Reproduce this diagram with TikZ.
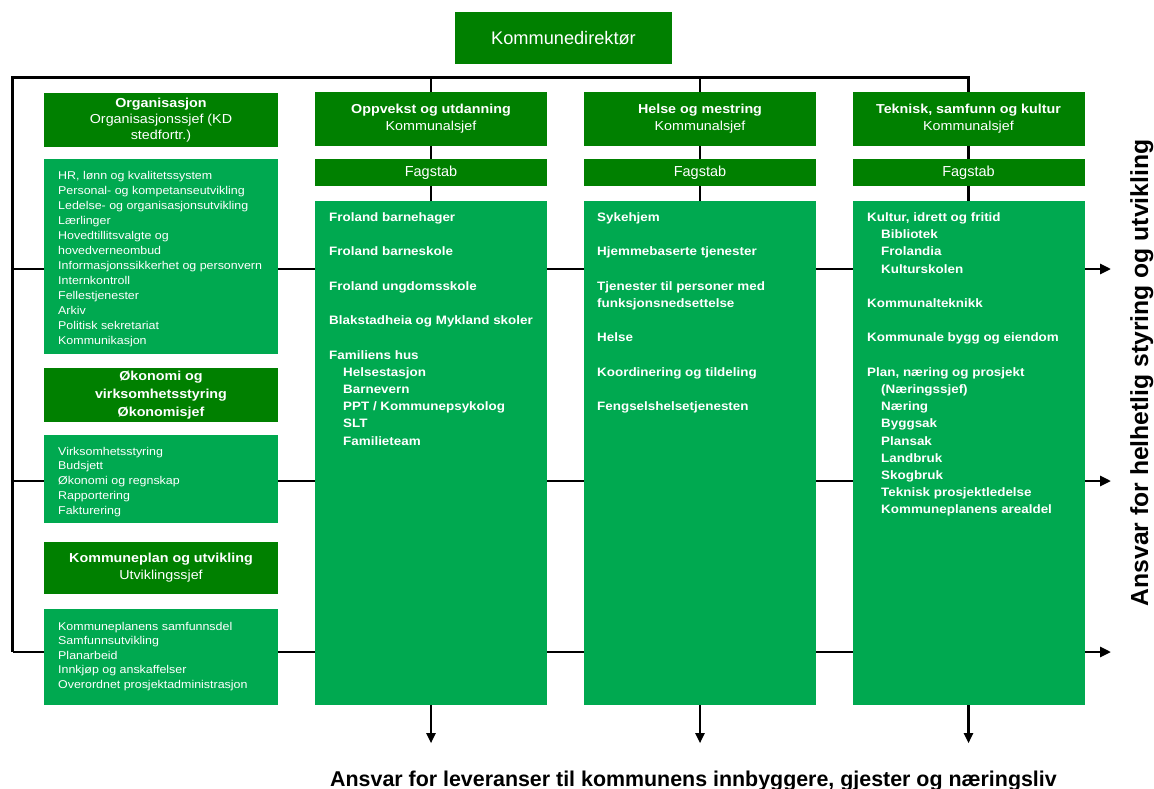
\documentclass[tikz,border=0pt]{standalone}
\usepackage{fontspec}
\setmainfont{Liberation Sans}
\newfontfamily\wf{Liberation Sans}[FakeStretch=1.1]
\usetikzlibrary{arrows.meta,backgrounds,calc}
\definecolor{dg}{HTML}{008000}
\definecolor{lg}{HTML}{00A950}
\begin{document}
\begin{tikzpicture}[x=1pt,y=-1pt,
  conn/.style={line width=2.7pt, black},
  arr/.style={conn, -{Triangle[length=11pt,width=10pt]}},
  darr/.style={line width=2.2pt, black, -{Triangle[length=10pt,width=9pt]}},
  hbox/.style={fill=dg, draw=none, text=white, inner sep=0pt, align=center, font=\wf\fontsize{13}{17}\selectfont},
  ibox/.style={fill=lg, draw=none, inner sep=0pt},
  fbox/.style={fill=dg, draw=none, text=white, inner sep=0pt, font=\fontsize{14.5}{17}\selectfont},
  ltxt/.style={anchor=base west, inner sep=0pt, text=white, font=\wf\fontsize{11.3}{15}\selectfont},
  mtxt/.style={anchor=base west, inner sep=0pt, text=white, font=\wf\bfseries\fontsize{12.2}{17}\selectfont},
]
\useasboundingbox (0,0) rectangle (1154,789);

% top box
\node[fill=dg, text=white, minimum width=217pt, minimum height=52pt, inner sep=0pt,
      font=\fontsize{18.2}{20}\selectfont] (dir) at (563.5,38) {Kommunedirektør};

% left column
\node[hbox, minimum width=234pt, minimum height=54pt, font=\wf\fontsize{13}{16}\selectfont] (orgH) at (161,120)
  {\textbf{Organisasjon}\\Organisasjonssjef (KD\\stedfortr.)};
\node[ibox, minimum width=234pt, minimum height=195pt] (orgI) at (161,256.5) {};
\node[hbox, minimum width=234pt, minimum height=54pt, font=\wf\fontsize{13}{18}\selectfont] (okoH) at (161,395)
  {\textbf{Økonomi og}\\\textbf{virksomhetsstyring}\\\textbf{Økonomisjef}};
\node[ibox, minimum width=234pt, minimum height=88pt] (okoI) at (161,479) {};
\node[hbox, minimum width=234pt, minimum height=52pt] (kpH) at (161,568)
  {\textbf{Kommuneplan og utvikling}\\Utviklingssjef};
\node[ibox, minimum width=234pt, minimum height=96pt] (kpI) at (161,657) {};

% main columns
\foreach \n/\cx/\t in {2/431/Oppvekst og utdanning, 3/700/Helse og mestring, 4/968.5/{Teknisk, samfunn og kultur}}{
  \node[hbox, minimum width=232pt, minimum height=54pt] (h\n) at (\cx,119) {\textbf{\t}\\Kommunalsjef};
  \node[fbox, minimum width=232pt, minimum height=27pt] (f\n) at (\cx,172.5) {Fagstab};
  \node[ibox, minimum width=232pt, minimum height=504pt] (m\n) at (\cx,453) {};
}

% left texts
\foreach \t [count=\k from 0] in {{HR, lønn og kvalitetssystem},Personal- og kompetanseutvikling,
  Ledelse- og organisasjonsutvikling,Lærlinger,Hovedtillitsvalgte og,hovedverneombud,
  Informasjonssikkerhet og personvern,Internkontroll,Fellestjenester,Arkiv,Politisk sekretariat,Kommunikasjon}
  \node[ltxt] (o\k) at (58,{179+15*\k}) {\t};
\foreach \t [count=\k from 0] in {Virksomhetsstyring,Budsjett,Økonomi og regnskap,Rapportering,Fakturering}
  \node[ltxt] (e\k) at (58,{455+14.8*\k}) {\t};
\foreach \t [count=\k from 0] in {Kommuneplanens samfunnsdel,Samfunnsutvikling,Planarbeid,
  Innkjøp og anskaffelser,Overordnet prosjektadministrasjon}
  \node[ltxt] (p\k) at (58,{630+14.6*\k}) {\t};

% column texts
\foreach \k/\x/\t in {0/329/Froland barnehager,2/329/Froland barneskole,4/329/Froland ungdomsskole,
  6/329/Blakstadheia og Mykland skoler,8/329/Familiens hus,9/343/Helsestasjon,10/343/Barnevern,
  11/343/{PPT / Kommunepsykolog},12/343/SLT,13/343/Familieteam}
  \node[mtxt] (a\k) at (\x,{221.5+17.2*\k}) {\t};
\foreach \k/\x/\t in {0/597/Sykehjem,2/597/Hjemmebaserte tjenester,4/597/Tjenester til personer med,
  5/597/funksjonsnedsettelse,7/597/Helse,9/597/Koordinering og tildeling,11/597/Fengselshelsetjenesten}
  \node[mtxt] (b\k) at (\x,{221.5+17.2*\k}) {\t};
\foreach \k/\x/\t in {0/867/{Kultur, idrett og fritid},1/881/Bibliotek,2/881/Frolandia,3/881/Kulturskolen,
  5/867/Kommunalteknikk,7/867/Kommunale bygg og eiendom,9/867/{Plan, næring og prosjekt},
  10/881/(Næringssjef),11/881/Næring,12/881/Byggsak,13/881/Plansak,14/881/Landbruk,15/881/Skogbruk,
  16/881/Teknisk prosjektledelse,17/881/Kommuneplanens arealdel}
  \node[mtxt] (c\k) at (\x,{221.5+17.2*\k}) {\t};

% side texts
\node[anchor=base, inner sep=0pt, rotate=90, font=\bfseries\fontsize{24.7}{28}\selectfont] (rt)
  at (1148,373) {Ansvar for helhetlig styring og utvikling};
\node[anchor=base, inner sep=0pt, font=\bfseries\fontsize{21.4}{24}\selectfont] (bt)
  at (693.5,786) {Ansvar for leveranser til kommunens innbyggere, gjester og næringsliv};

% connectors
\coordinate (TL) at (12.5,77.5);
\coordinate (BL) at (12.5,652);
\coordinate (L1) at (12.5,269);
\coordinate (L2) at (12.5,481);
\coordinate (R1) at (1111,269);
\coordinate (R2) at (1111,481);
\coordinate (R3) at (1111,652);
\begin{scope}[on background layer]
  \draw[conn] (BL) -- (TL) -- (h4.north |- TL) -- (h4.north);
  \draw[conn] (h2.north |- TL) -- (h2.north);
  \draw[conn] (h3.north |- TL) -- (h3.north);
  \draw[arr] (L1) -- (R1);
  \draw[arr] (L2) -- (R2);
  \draw[arr] (BL) -- (R3);
\end{scope}
\foreach \n in {2,3,4}{
  \draw[conn] (h\n.south) -- (f\n.north);
  \draw[conn] (f\n.south) -- (m\n.north);
  \coordinate (d\n) at ($(m\n.south)+(0,38)$);
  \draw[darr] (m\n.south) -- (d\n);
}
\end{tikzpicture}
\end{document}
